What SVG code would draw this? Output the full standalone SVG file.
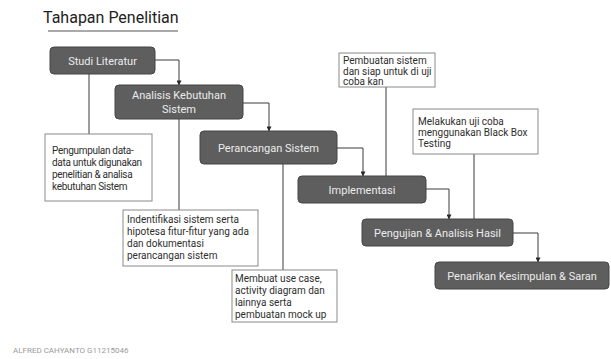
<svg xmlns="http://www.w3.org/2000/svg" width="611" height="359" viewBox="0 0 611 359">
  <style>
    .step rect { fill: #5e5e5e; stroke: #454545; stroke-width: 1; }
    .step text { fill: #ececec; font-family: Roboto, "Liberation Sans", sans-serif; font-size: 11px; text-anchor: middle; }
    .note rect { fill: #ffffff; stroke: #8a8a8a; stroke-width: 1; }
    .note text { fill: #2e2e2e; font-family: Roboto, "Liberation Sans", sans-serif; font-size: 10px; }
    .wire { fill: none; stroke: #3a3a3a; stroke-width: 1; }
    .title { fill: #222222; font-family: Roboto, "Liberation Sans", sans-serif; font-size: 16px; }
  </style>
  <defs>
    <marker id="head" viewBox="0 0 6 6" refX="5.5" refY="3" markerWidth="5" markerHeight="5" orient="auto">
      <path d="M0,0 L6,3 L0,6 z" fill="#2a2a2a"/>
    </marker>
  </defs>
  <rect width="611" height="359" fill="#ffffff"/>

  <!-- heading -->
  <g id="title">
    <text class="title" x="43" y="23">Tahapan Penelitian</text>
    <line x1="48" y1="31" x2="178" y2="31" stroke="#555555" stroke-width="1"/>
  </g>

  <!-- connectors -->
  <g id="connectors">
    <path class="wire" d="M155,60 H179 V85" marker-end="url(#head)"/>
    <path class="wire" d="M243,103 H269 V131" marker-end="url(#head)"/>
    <path class="wire" d="M337,148 H363 V176" marker-end="url(#head)"/>
    <path class="wire" d="M426,189 H449 V219" marker-end="url(#head)"/>
    <path class="wire" d="M513,233 H538 V262" marker-end="url(#head)"/>
    <path class="wire" d="M89,74 V134"/>
    <path class="wire" d="M179,119 V210"/>
    <path class="wire" d="M283,164 V270"/>
    <path class="wire" d="M386,87 V176"/>
    <path class="wire" d="M474,154 V219"/>
  </g>

  <!-- main steps -->
  <g id="studi-literatur" class="step">
    <rect x="50" y="47" width="105" height="27" rx="4"/>
    <text x="102.5" y="65">Studi Literatur</text>
  </g>
  <g id="analisis-kebutuhan" class="step">
    <rect x="115" y="85" width="128" height="34" rx="4"/>
    <text x="179" y="99">Analisis Kebutuhan</text>
    <text x="179" y="113">Sistem</text>
  </g>
  <g id="perancangan-sistem" class="step">
    <rect x="200" y="131" width="137" height="33" rx="4"/>
    <text x="268.5" y="152">Perancangan Sistem</text>
  </g>
  <g id="implementasi" class="step">
    <rect x="298" y="176" width="128" height="27" rx="4"/>
    <text x="362" y="194">Implementasi</text>
  </g>
  <g id="pengujian" class="step">
    <rect x="362" y="219" width="151" height="27" rx="4"/>
    <text x="437.5" y="237">Pengujian &amp; Analisis Hasil</text>
  </g>
  <g id="penarikan-kesimpulan" class="step">
    <rect x="435" y="262" width="174" height="27" rx="4"/>
    <text x="522" y="280">Penarikan Kesimpulan &amp; Saran</text>
  </g>

  <!-- notes -->
  <g id="note-studi" class="note">
    <rect x="45" y="134" width="107" height="67"/>
    <text x="52" y="154" letter-spacing="-0.3">Pengumpulan data-</text>
    <text x="52" y="166" letter-spacing="-0.3">data untuk  digunakan</text>
    <text x="52" y="178" letter-spacing="-0.3">penelitian &amp; analisa</text>
    <text x="52" y="190" letter-spacing="-0.3">kebutuhan Sistem</text>
  </g>
  <g id="note-analisis" class="note">
    <rect x="123" y="210" width="135" height="56"/>
    <text x="127" y="223">Indentifikasi sistem serta</text>
    <text x="127" y="235">hipotesa fitur-fitur yang ada</text>
    <text x="127" y="247">dan dokumentasi</text>
    <text x="127" y="259">perancangan sistem</text>
  </g>
  <g id="note-perancangan" class="note">
    <rect x="232" y="270" width="105" height="52"/>
    <text x="235" y="282">Membuat use case,</text>
    <text x="235" y="294">activity diagram dan</text>
    <text x="235" y="306">lainnya serta</text>
    <text x="235" y="318">pembuatan mock up</text>
  </g>
  <g id="note-implementasi" class="note">
    <rect x="339" y="53" width="96" height="34"/>
    <text x="343" y="64">Pembuatan sistem</text>
    <text x="343" y="75">dan siap untuk di uji</text>
    <text x="343" y="85">coba kan</text>
  </g>
  <g id="note-pengujian" class="note">
    <rect x="413" y="109" width="125" height="45"/>
    <text x="418" y="125">Melakukan uji coba</text>
    <text x="418" y="136">menggunakan Black Box</text>
    <text x="418" y="147">Testing</text>
  </g>

  <!-- author line -->
  <text x="13" y="353" fill="#9a9a9a" font-family="Roboto, 'Liberation Sans', sans-serif" font-size="8px">ALFRED CAHYANTO G11215046</text>
</svg>
